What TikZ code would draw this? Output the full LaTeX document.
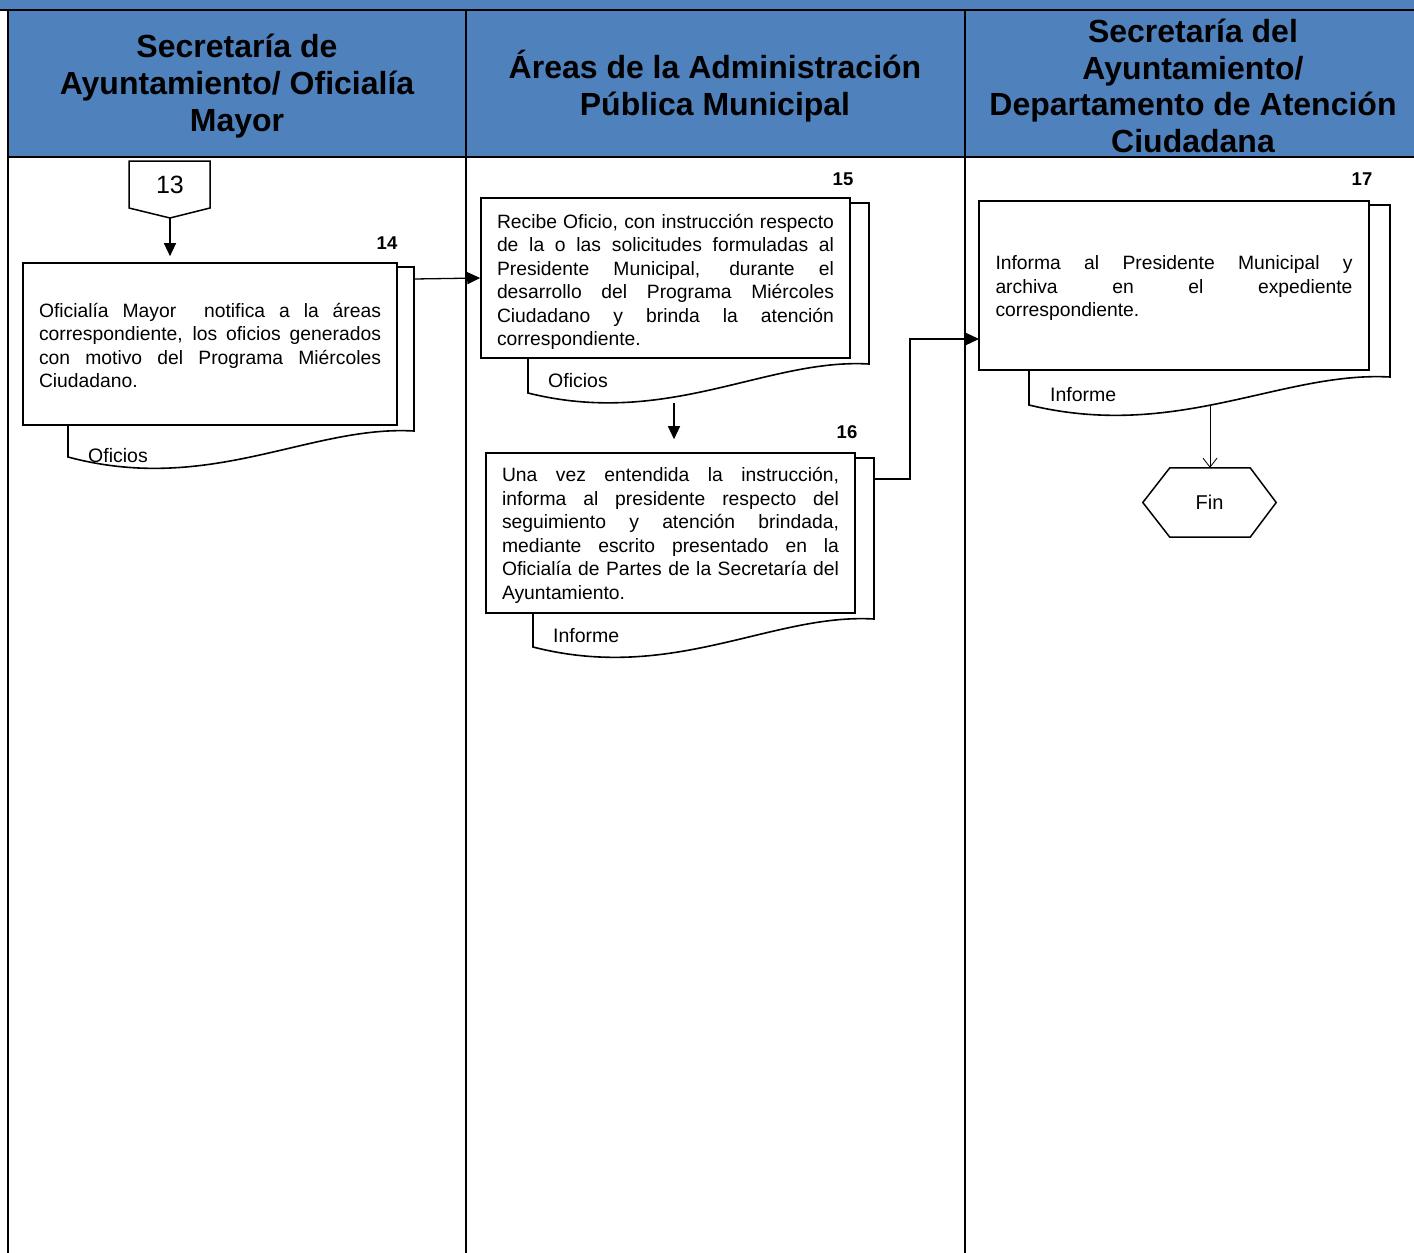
\documentclass[tikz,border=0pt]{standalone}
\usepackage{fontspec}
\setmainfont{Liberation Sans}
\usetikzlibrary{arrows.meta}
\definecolor{hdr}{RGB}{79,129,189}
\hyphenpenalty=10000
\exhyphenpenalty=10000
\tolerance=10000
\begin{document}
\begin{tikzpicture}[x=1pt,y=-1pt,
  lane/.style={line width=1.6pt},
  frontbox/.style={draw, line width=1.6pt, fill=white, inner sep=0pt},
  boxtext/.style={inner sep=0pt, align=justify, font=\fontsize{19.3}{23.5}\selectfont},
  backdoc/.style={draw, line width=1.6pt, fill=white},
  doclabel/.style={anchor=west, inner sep=0pt, font=\fontsize{19.5}{23.5}\selectfont},
  stepnum/.style={inner sep=0pt, font=\fontsize{18.5}{22}\selectfont\bfseries},
  hdrtext/.style={align=center, inner sep=0pt, font=\fontsize{32}{36.7}\selectfont\bfseries},
  flow/.style={line width=1.3pt, -{Triangle[length=13pt,width=12pt]}},
  shapeline/.style={line width=1.5pt},
]
\useasboundingbox (0,0) rectangle (1414,1253);

% header
\fill[hdr] (0,0) rectangle (1414,10);
\fill[hdr] (8,10) rectangle (1414,157);
\draw[lane] (0,10) -- (1414,10);
\draw[lane] (8,157) -- (1414,157);
\draw[lane] (8,10) -- (8,1253);
\draw[lane] (466,10) -- (466,1253);
\draw[lane] (965,10) -- (965,1253);

\node[hdrtext] (h1) at (237,86) {Secretaría de\\Ayuntamiento/ Oficialía\\Mayor};
\node[hdrtext] (h2) at (715,86) {Áreas de la Administración\\Pública Municipal};
\node[hdrtext] (h3) at (1193,86) {Secretaría del\\Ayuntamiento/\\Departamento de Atención\\Ciudadana};

% 13 connector
\draw[shapeline] (129,161) -- (210,161) -- (210,208) -- (170,218) -- (129,208) -- cycle;
\node[inner sep=0pt, font=\fontsize{25}{30}\selectfont] (n13) at (170,185) {13};
\coordinate (c13) at (170,218);

% back documents
\draw[backdoc] (68,457) -- (68,267) -- (414,267) -- (414,431) .. controls (310,425) and (210,495) .. (68,457) -- cycle;
\draw[backdoc] (528,393) -- (528,203) -- (869,203) -- (869,364) .. controls (767,358) and (668,428) .. (528,393) -- cycle;
\draw[backdoc] (533,647) -- (533,458) -- (874,458) -- (874,619) .. controls (772,613) and (673,683) .. (533,647) -- cycle;
\draw[backdoc] (1029,405) -- (1029,205) -- (1390,205) -- (1390,377) .. controls (1282,371) and (1177,441) .. (1029,405) -- cycle;

% front boxes
\node[frontbox, minimum width=374pt, minimum height=162pt] (b14) at (210,344) {};
\node[frontbox, minimum width=369pt, minimum height=160pt] (b15) at (665.5,278) {};
\node[frontbox, minimum width=369pt, minimum height=160pt] (b16) at (670.5,533) {};
\node[frontbox, minimum width=390pt, minimum height=169pt] (b17) at (1174,285.5) {};

\node[boxtext, text width=342pt] (t14) at ([yshift=-1.5pt]b14.center)
  {Oficialía Mayor~~notifica a la áreas\linebreak correspondiente, los oficios generados\linebreak con motivo del Programa Miércoles\linebreak Ciudadano.};
\node[boxtext, text width=337pt] (t15) at ([yshift=-4pt]b15.center)
  {Recibe Oficio, con instrucción respecto\linebreak de la o las solicitudes formuladas al\linebreak Presidente Municipal, durante el\linebreak desarrollo del Programa Miércoles\linebreak Ciudadano y brinda la atención\linebreak correspondiente.};
\node[boxtext, text width=337pt] (t16) at ([yshift=-2.5pt]b16.center)
  {Una vez entendida la instrucción,\linebreak informa al presidente respecto del\linebreak seguimiento y atención brindada,\linebreak mediante escrito presentado en la\linebreak Oficialía de Partes de la Secretaría del\linebreak Ayuntamiento.};
\node[boxtext, text width=357pt] (t17) at ([yshift=-3pt]b17.center)
  {Informa al Presidente Municipal y\linebreak archiva en el expediente\linebreak correspondiente.};

% document labels
\node[doclabel] (d14) at (88,456) {Oficios};
\node[doclabel] (d15) at (548,381) {Oficios};
\node[doclabel] (d16) at (553,636) {Informe};
\node[doclabel] (d17) at (1050,395) {Informe};

% step numbers
\node[stepnum] (s14) at (387,243) {14};
\node[stepnum] (s15) at (843,179) {15};
\node[stepnum] (s16) at (847,432) {16};
\node[stepnum] (s17) at (1362,179) {17};

% Fin
\node[inner sep=0pt, minimum width=133pt, minimum height=69pt, font=\fontsize{20}{24}\selectfont] (fin) at (1209.5,502.5) {Fin};
\draw[shapeline] (fin.west) -- ([xshift=27pt]fin.north west) -- ([xshift=-26pt]fin.north east) -- (fin.east) -- ([xshift=-26pt]fin.south east) -- ([xshift=27pt]fin.south west) -- cycle;

% connectors
\coordinate (o14) at (414,279);
\coordinate (o15) at (674,403);
\coordinate (o16) at (874,479);
\coordinate (i17) at (979,339);
\coordinate (o17) at (1210,405);
\draw[flow, shorten >=6pt] (c13) -- (c13 |- b14.north);
\draw[flow] (o14) -- (b15.west);
\draw[flow, shorten >=13pt] (o15) -- (o15 |- b16.north);
\draw[flow] (o16) -| (910,339) -- (i17);
\draw[line width=0.8pt, -{Straight Barb[length=9pt,width=14pt]}] (o17) -- (o17 |- fin.north);
\end{tikzpicture}
\end{document}
